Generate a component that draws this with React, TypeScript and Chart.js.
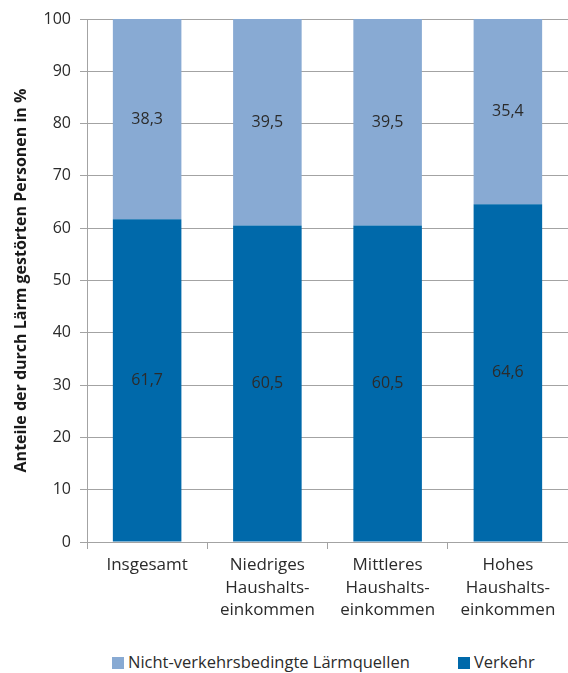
import React, { useEffect, useRef } from "react";
import { Chart, registerables } from "chart.js";

Chart.register(...registerables);

const categories: string[][] = [
  ["Insgesamt"],
  ["Niedriges", "Haushalts-", "einkommen"],
  ["Mittleres", "Haushalts-", "einkommen"],
  ["Hohes", "Haushalts-", "einkommen"],
];
const verkehr = [61.7, 60.5, 60.5, 64.6];
const nichtVerkehr = [38.3, 39.5, 39.5, 35.4];
const seriesNames = ["Verkehr", "Nicht-verkehrsbedingte Lärmquellen"];
const yTitle = "Anteile der durch Lärm gestörten Personen in %";

const DARK = "#0069aa";
const LIGHT = "#88aad3";
const GRID = "#a3a3a3";
const TEXT = "#2b2b2b";
const FONT = "'Open Sans', 'Noto Sans', sans-serif";

const valueLabels = {
  id: "valueLabels",
  afterDatasetsDraw(chart: any) {
    const ctx = chart.ctx;
    ctx.save();
    ctx.font = `16px ${FONT}`;
    ctx.fillStyle = TEXT;
    ctx.textAlign = "center";
    ctx.textBaseline = "middle";
    chart.data.datasets.forEach((ds: any, di: number) => {
      const meta = chart.getDatasetMeta(di);
      meta.data.forEach((bar: any, i: number) => {
        const v = ds.data[i];
        const y = (bar.y + bar.base) / 2;
        ctx.fillText(String(v).replace(".", ","), bar.x, y);
      });
    });
    ctx.restore();
  },
};

export default function App() {
  const ref = useRef<HTMLCanvasElement | null>(null);
  useEffect(() => {
    if (!ref.current) return;
    const chart = new Chart(ref.current, {
      type: "bar",
      data: {
        labels: categories,
        datasets: [
          { label: seriesNames[0], data: verkehr, backgroundColor: DARK, categoryPercentage: 1, barPercentage: 0.57 },
          { label: seriesNames[1], data: nichtVerkehr, backgroundColor: LIGHT, categoryPercentage: 1, barPercentage: 0.57 },
        ],
      },
      options: {
        animation: false,
        responsive: false,
        maintainAspectRatio: false,
        layout: { padding: { top: 19, right: 0, left: 0, bottom: 0 } },
        plugins: { legend: { display: false }, tooltip: { enabled: false } },
        scales: {
          x: {
            stacked: true,
            offset: true,
            grid: { display: true, drawOnChartArea: false, drawTicks: true, offset: true, tickLength: 7, color: GRID },
            border: { display: true, color: GRID, width: 1 },
            ticks: { color: TEXT, font: { family: FONT, size: 17, lineHeight: 1.32 }, padding: 5, maxRotation: 0, autoSkip: false },
            afterFit: (s: any) => { s.height = 98; },
          },
          y: {
            stacked: true,
            min: 0,
            max: 100,
            ticks: { stepSize: 10, color: TEXT, font: { family: FONT, size: 16 }, padding: 9 },
            grid: { color: GRID, tickLength: 7, lineWidth: 1 },
            border: { display: true, color: GRID, width: 1 },
            title: { display: true, text: yTitle, color: "#1a1a1a", font: { family: FONT, size: 16, weight: "bold" }, padding: { top: 12, bottom: 0 } },
            afterFit: (s: any) => { s.width = 87; },
          },
        },
      },
      plugins: [valueLabels],
    });
    return () => chart.destroy();
  }, []);

  const sq = (c: string) => (
    <span style={{ display: "inline-block", width: 12, height: 12, background: c, marginRight: 4, verticalAlign: "-1px" }} />
  );

  return (
    <div style={{ position: "absolute", left: 0, top: 0, width: 568, height: 673, background: "#fff" }}>
      <canvas ref={ref} width={568} height={640} style={{ display: "block" }} />
      <div style={{ position: "absolute", top: 652, left: 112, font: `16.5px ${FONT}`, color: TEXT, whiteSpace: "nowrap", lineHeight: "20px" }}>
        {sq(LIGHT)}{seriesNames[1]}
      </div>
      <div style={{ position: "absolute", top: 652, left: 458, font: `16.5px ${FONT}`, color: TEXT, whiteSpace: "nowrap", lineHeight: "20px" }}>
        {sq(DARK)}{seriesNames[0]}
      </div>
    </div>
  );
}
